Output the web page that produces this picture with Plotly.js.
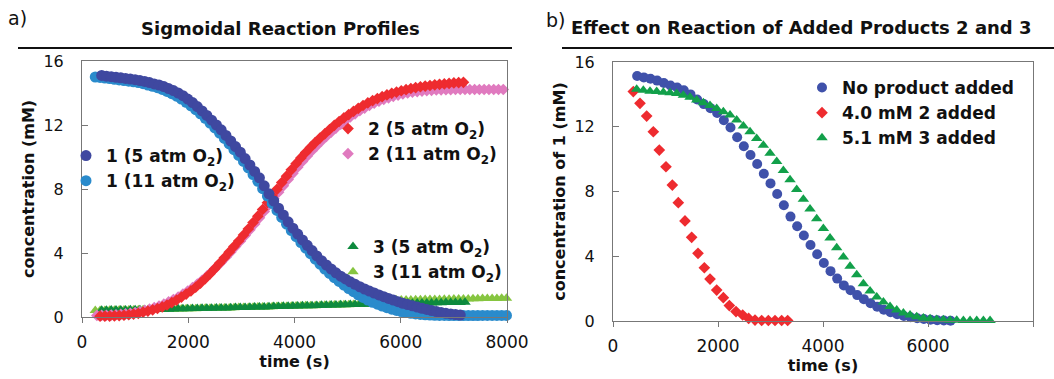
<!DOCTYPE html>
<html>
<head>
<meta charset="utf-8">
<script src="https://cdn.plot.ly/plotly-3.0.1.min.js"></script>
<style>html,body{margin:0;padding:0;background:#fff;}#chart{width:1054px;height:379px;}</style>
</head>
<body>
<div id="chart"></div>
<script>
// ---------- Panel a) Sigmoidal Reaction Profiles ----------
const t1_5 = [370,460,550,640,730,820,910,1000,1090,1180,1270,1360,1450,1540,1630,1720,1810,1900,1990,2080,2170,2260,2350,2440,2530,2620,2710,2800,2890,2980,3070,3160,3250,3340,3430,3520,3610,3700,3790,3880,3970,4060,4150,4240,4330,4420,4510,4600,4690,4780,4870,4960,5050,5140,5230,5320,5410,5500,5590,5680,5770,5860,5950,6040,6130,6220,6310,6400,6490,6580,6670,6760,6850,6940,7030,7120];
const c1_5 = [15.10,15.05,15.02,14.98,14.95,14.91,14.87,14.83,14.78,14.72,14.65,14.57,14.50,14.40,14.28,14.15,14.00,13.83,13.62,13.40,13.15,12.88,12.60,12.30,12.00,11.70,11.35,11.00,10.65,10.30,9.90,9.50,9.10,8.70,8.20,7.70,7.25,6.80,6.38,5.95,5.55,5.18,4.82,4.48,4.15,3.82,3.52,3.25,3.00,2.76,2.55,2.38,2.20,2.04,1.89,1.75,1.62,1.50,1.38,1.27,1.16,1.06,0.96,0.86,0.78,0.70,0.62,0.54,0.47,0.40,0.34,0.28,0.23,0.19,0.15,0.12];

const t1_11 = [250,340,430,520,610,700,790,880,970,1060,1150,1240,1330,1420,1510,1600,1690,1780,1870,1960,2050,2140,2230,2320,2410,2500,2590,2680,2770,2860,2950,3040,3130,3220,3310,3400,3490,3580,3670,3760,3850,3940,4030,4120,4210,4300,4390,4480,4570,4660,4750,4840,4930,5020,5110,5200,5290,5380,5470,5560,5650,5740,5830,5920,6010,6100,6190,6280,6370,6460,6550,6640,6730,6820,6910,7000,7090,7180,7270,7360,7450,7540,7630,7720,7810,7900,7990];
const c1_11 = [15.00,14.97,14.93,14.90,14.86,14.82,14.78,14.74,14.70,14.65,14.58,14.50,14.42,14.33,14.22,14.10,13.96,13.80,13.62,13.42,13.20,12.96,12.70,12.42,12.12,11.82,11.50,11.16,10.82,10.46,10.10,9.72,9.32,8.90,8.48,8.02,7.56,7.10,6.66,6.22,5.80,5.40,5.02,4.65,4.30,3.96,3.62,3.30,3.00,2.72,2.46,2.22,2.00,1.78,1.58,1.39,1.22,1.06,0.92,0.80,0.68,0.58,0.49,0.41,0.34,0.28,0.23,0.19,0.16,0.14,0.12,0.11,0.10,0.10,0.09,0.09,0.09,0.09,0.09,0.09,0.09,0.10,0.10,0.10,0.10,0.10,0.10];

const t2_5 = [340,430,520,610,700,790,880,970,1060,1150,1240,1330,1420,1510,1600,1690,1780,1870,1960,2050,2140,2230,2320,2410,2500,2590,2680,2770,2860,2950,3040,3130,3220,3310,3400,3490,3580,3670,3760,3850,3940,4030,4120,4210,4300,4390,4480,4570,4660,4750,4840,4930,5020,5110,5200,5290,5380,5470,5560,5650,5740,5830,5920,6010,6100,6190,6280,6370,6460,6550,6640,6730,6820,6910,7000,7090,7180];
const c2_5 = [0.05,0.05,0.06,0.07,0.09,0.11,0.14,0.18,0.23,0.30,0.37,0.45,0.53,0.63,0.75,0.90,1.06,1.24,1.43,1.63,1.86,2.12,2.40,2.70,3.02,3.36,3.70,4.05,4.40,4.75,5.12,5.50,5.90,6.30,6.72,7.14,7.56,7.98,8.40,8.80,9.20,9.58,9.94,10.28,10.60,10.90,11.18,11.45,11.72,11.98,12.22,12.44,12.65,12.85,13.04,13.22,13.38,13.52,13.65,13.77,13.88,13.98,14.06,14.14,14.21,14.28,14.34,14.39,14.43,14.47,14.51,14.54,14.57,14.60,14.63,14.65,14.67];

const t2_11 = [280,370,460,550,640,730,820,910,1000,1090,1180,1270,1360,1450,1540,1630,1720,1810,1900,1990,2080,2170,2260,2350,2440,2530,2620,2710,2800,2890,2980,3070,3160,3250,3340,3430,3520,3610,3700,3790,3880,3970,4060,4150,4240,4330,4420,4510,4600,4690,4780,4870,4960,5050,5140,5230,5320,5410,5500,5590,5680,5770,5860,5950,6040,6130,6220,6310,6400,6490,6580,6670,6760,6850,6940,7030,7120,7210,7300,7390,7480,7570,7660,7750,7840,7930];
const c2_11 = [0.10,0.10,0.11,0.12,0.14,0.16,0.19,0.23,0.28,0.34,0.41,0.49,0.58,0.68,0.80,0.94,1.09,1.25,1.43,1.62,1.83,2.05,2.29,2.55,2.83,3.12,3.42,3.74,4.06,4.40,4.74,5.09,5.45,5.82,6.20,6.60,7.00,7.40,7.80,8.20,8.60,8.98,9.36,9.72,10.06,10.39,10.70,11.00,11.28,11.55,11.81,12.05,12.28,12.50,12.70,12.89,13.06,13.22,13.36,13.49,13.60,13.70,13.79,13.87,13.94,14.00,14.05,14.09,14.12,14.15,14.17,14.19,14.20,14.21,14.21,14.22,14.22,14.22,14.22,14.22,14.22,14.22,14.22,14.22,14.22,14.22];

const t3_5 = [370,460,550,640,730,820,910,1000,1090,1180,1270,1360,1450,1540,1630,1720,1810,1900,1990,2080,2170,2260,2350,2440,2530,2620,2710,2800,2890,2980,3070,3160,3250,3340,3430,3520,3610,3700,3790,3880,3970,4060,4150,4240,4330,4420,4510,4600,4690,4780,4870,4960,5050,5140,5230,5320,5410,5500,5590,5680,5770,5860,5950,6040,6130,6220,6310,6400,6490,6580,6670,6760,6850,6940,7030,7120,7210];
const c3_5 = [0.42,0.42,0.43,0.43,0.44,0.44,0.45,0.45,0.46,0.46,0.47,0.47,0.48,0.49,0.49,0.50,0.51,0.51,0.52,0.53,0.53,0.54,0.55,0.55,0.56,0.57,0.57,0.58,0.59,0.60,0.60,0.61,0.62,0.63,0.63,0.64,0.65,0.66,0.67,0.67,0.68,0.69,0.70,0.71,0.71,0.72,0.73,0.74,0.75,0.75,0.76,0.77,0.78,0.78,0.79,0.80,0.81,0.81,0.82,0.83,0.83,0.84,0.85,0.85,0.86,0.86,0.87,0.87,0.88,0.88,0.89,0.89,0.90,0.90,0.91,0.91,0.92];

const t3_11 = [250,340,430,520,610,700,790,880,970,1060,1150,1240,1330,1420,1510,1600,1690,1780,1870,1960,2050,2140,2230,2320,2410,2500,2590,2680,2770,2860,2950,3040,3130,3220,3310,3400,3490,3580,3670,3760,3850,3940,4030,4120,4210,4300,4390,4480,4570,4660,4750,4840,4930,5020,5110,5200,5290,5380,5470,5560,5650,5740,5830,5920,6010,6100,6190,6280,6370,6460,6550,6640,6730,6820,6910,7000,7090,7180,7270,7360,7450,7540,7630,7720,7810,7900,7990];
const c3_11 = [0.40,0.41,0.41,0.42,0.42,0.43,0.43,0.44,0.44,0.45,0.45,0.46,0.46,0.47,0.48,0.48,0.49,0.50,0.50,0.51,0.52,0.52,0.53,0.54,0.54,0.55,0.56,0.56,0.57,0.58,0.59,0.59,0.60,0.61,0.62,0.62,0.63,0.64,0.65,0.66,0.66,0.67,0.68,0.69,0.70,0.71,0.71,0.72,0.73,0.74,0.75,0.75,0.76,0.77,0.78,0.78,0.79,0.80,0.81,0.81,0.82,0.83,1.05,1.06,1.06,1.07,1.07,1.08,1.08,1.09,1.09,1.10,1.10,1.11,1.11,1.12,1.12,1.13,1.13,1.14,1.14,1.15,1.15,1.16,1.16,1.17,1.17];

// ---------- Panel b) Effect of added products ----------
const tNone = [460,587,714,841,968,1095,1222,1349,1476,1603,1730,1857,1984,2111,2238,2365,2492,2619,2746,2873,3000,3127,3254,3381,3508,3635,3762,3889,4016,4143,4270,4397,4524,4651,4778,4905,5032,5159,5286,5413,5540,5667,5794,5921,6048,6175,6302,6429];
const cNone = [15.13,15.05,14.97,14.85,14.70,14.55,14.42,14.25,14.00,13.68,13.40,13.15,12.85,12.40,11.95,11.35,10.80,10.25,9.70,9.10,8.50,7.85,7.15,6.45,5.85,5.28,4.70,4.12,3.58,3.08,2.62,2.20,1.90,1.60,1.35,1.10,0.88,0.70,0.54,0.42,0.31,0.23,0.17,0.12,0.08,0.05,0.03,0.02];

const tAdd2 = [387,514,641,768,882,1009,1130,1244,1371,1498,1619,1740,1848,1975,2102,2216,2343,2470,2584,2705,2832,2959,3086,3213,3327];
const cAdd2 = [14.17,13.45,12.66,11.69,10.56,9.53,8.40,7.31,6.18,5.17,4.18,3.29,2.59,1.91,1.44,0.95,0.58,0.37,0.16,0.06,0.03,0.03,0.03,0.03,0.03];

const tAdd3 = [451,578,705,832,959,1086,1213,1340,1467,1594,1721,1848,1975,2102,2229,2356,2483,2610,2737,2864,2991,3118,3245,3372,3499,3626,3753,3880,4007,4134,4261,4388,4515,4642,4769,4896,5023,5150,5277,5404,5531,5658,5785,5912,6039,6166,6293,6420,6547,6674,6801,6928,7055,7182];
const cAdd3 = [14.31,14.25,14.20,14.17,14.13,14.10,14.05,13.95,13.82,13.65,13.48,13.32,13.13,12.93,12.72,12.42,12.05,11.69,11.28,10.85,10.36,9.85,9.30,8.72,8.12,7.52,6.92,6.32,5.72,5.12,4.52,3.95,3.38,2.85,2.30,1.85,1.48,1.18,0.90,0.68,0.50,0.37,0.27,0.19,0.14,0.10,0.07,0.05,0.04,0.03,0.03,0.03,0.03,0.03];

const xTicks = [0, 2000, 4000, 6000, 8000];
const yTicks = [0, 4, 8, 12, 16];

const FONT = "DejaVu Sans, Liberation Sans, Arial, sans-serif";
const W = 1054, H = 379;
const px = v => v / W;
const py = v => 1 - v / H;

function sc(x, y, name, color, symbol, size, xa, ya, leg, rank) {
  return {
    type: 'scatter', mode: 'markers', x: x, y: y, name: name,
    xaxis: xa, yaxis: ya, legend: leg, legendrank: rank, cliponaxis: false,
    marker: { color: color, symbol: symbol, size: size, line: { width: 0 } },
    hoverinfo: 'skip'
  };
}

const data = [
  sc(t3_11, c3_11, '<b>3 (11 atm O<sub>2</sub>)</b>', '#86c540', 'triangle-up', 10, 'x', 'y', 'legend3', 2),
  sc(t3_5, c3_5, '<b>3 (5 atm O<sub>2</sub>)</b>', '#0e8a3e', 'triangle-up', 10, 'x', 'y', 'legend3', 1),
  sc(t2_11, c2_11, '<b>2 (11 atm O<sub>2</sub>)</b>', '#e07abf', 'diamond', 9, 'x', 'y', 'legend2', 2),
  sc(t2_5, c2_5, '<b>2 (5 atm O<sub>2</sub>)</b>', '#ee2b2f', 'diamond', 9, 'x', 'y', 'legend2', 1),
  sc(t1_11, c1_11, '<b>1 (11 atm O<sub>2</sub>)</b>', '#2a8bcc', 'circle', 11, 'x', 'y', 'legend', 2),
  sc(t1_5, c1_5, '<b>1 (5 atm O<sub>2</sub>)</b>', '#3f48a0', 'circle', 11, 'x', 'y', 'legend', 1),
  sc(tNone, cNone, '<b>No product added</b>', '#3f51aa', 'circle', 10, 'x2', 'y2', 'legend4', 1),
  sc(tAdd2, cAdd2, '<b>4.0 mM 2 added</b>', '#ee2b2f', 'diamond', 9, 'x2', 'y2', 'legend4', 2),
  sc(tAdd3, cAdd3, '<b>5.1 mM 3 added</b>', '#12a04a', 'triangle-up', 10, 'x2', 'y2', 'legend4', 3)
];

function xAx(dom, anchor) {
  return {
    domain: dom, anchor: anchor, range: [0, 8000], tickvals: xTicks,
    ticks: 'outside', ticklen: 5, tickcolor: '#777', ticklabelstandoff: 5,
    showline: true, linecolor: '#777', linewidth: 1, mirror: true,
    showgrid: false, zeroline: false,
    tickfont: { family: FONT, size: 17, color: '#111' },
    title: { text: '<b>time (s)</b>', font: { family: FONT, size: 16, color: '#111' }, standoff: 0 }
  };
}
function yAx(dom, anchor, title) {
  return {
    domain: dom, anchor: anchor, range: [0, 16], tickvals: yTicks,
    ticks: 'inside', ticklen: 6, tickcolor: '#777', ticklabelstandoff: 14,
    showline: true, linecolor: '#777', linewidth: 1, mirror: true,
    showgrid: false, zeroline: false,
    tickfont: { family: FONT, size: 16, color: '#111' },
    title: { text: title, font: { family: FONT, size: 16, color: '#111' }, standoff: 4 }
  };
}
function leg(xp, yp) {
  return {
    x: px(xp), y: py(yp), xanchor: 'left', yanchor: 'top',
    bgcolor: 'rgba(0,0,0,0)', borderwidth: 0, itemwidth: 30,
    font: { family: FONT, size: 17, color: '#111' }, tracegroupgap: 0
  };
}

const layout = {
  width: W, height: H,
  margin: { l: 0, r: 0, t: 0, b: 0 },
  paper_bgcolor: '#fff', plot_bgcolor: '#fff',
  showlegend: true,
  xaxis: xAx([px(82), px(507)], 'y'),
  yaxis: yAx([py(317), py(61)], 'x', '<b>concentration (mM)</b>'),
  xaxis2: xAx([px(613), px(1033)], 'y2'),
  yaxis2: yAx([py(321), py(62)], 'x2', '<b>concentration of 1 (mM)</b>'),
  legend: leg(66, 138),
  legend2: leg(328, 111),
  legend3: leg(333, 229),
  legend4: leg(802, 70),
  shapes: [
    { type: 'line', xref: 'paper', yref: 'paper', x0: px(18), x1: px(512), y0: py(48), y1: py(48), line: { color: '#111', width: 2 } },
    { type: 'line', xref: 'paper', yref: 'paper', x0: px(562), x1: px(1054), y0: py(48), y1: py(48), line: { color: '#111', width: 2 } }
  ],
  annotations: [
    { text: 'a)', xref: 'paper', yref: 'paper', x: px(6), y: py(18), xanchor: 'left', yanchor: 'middle', showarrow: false, font: { family: FONT, size: 19, color: '#111' } },
    { text: '<b>Sigmoidal Reaction Profiles</b>', xref: 'paper', yref: 'paper', x: px(280), y: py(29), xanchor: 'center', yanchor: 'middle', showarrow: false, font: { family: FONT, size: 18, color: '#111' } },
    { text: 'b)', xref: 'paper', yref: 'paper', x: px(544), y: py(20), xanchor: 'left', yanchor: 'middle', showarrow: false, font: { family: FONT, size: 19, color: '#111' } },
    { text: '<b>Effect on Reaction of Added Products 2 and 3</b>', xref: 'paper', yref: 'paper', x: px(801), y: py(27), xanchor: 'center', yanchor: 'middle', showarrow: false, font: { family: FONT, size: 18, color: '#111' } }
  ]
};

Plotly.newPlot('chart', data, layout, { staticPlot: true, displayModeBar: false });
</script>
</body>
</html>
